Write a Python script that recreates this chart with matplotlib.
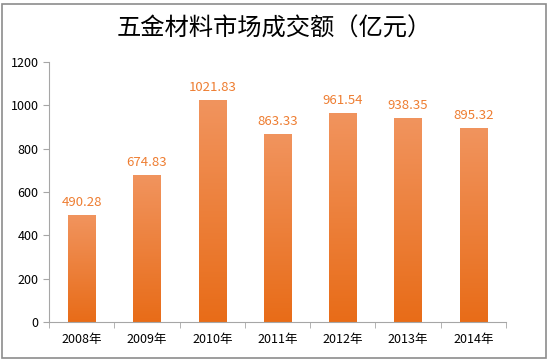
import numpy as np
import matplotlib.pyplot as plt
from matplotlib.patches import Rectangle

plt.rcParams['font.family'] = ['Noto Sans CJK SC', 'DejaVu Sans']

years = ['2008年', '2009年', '2010年', '2011年', '2012年', '2013年', '2014年']
values = [490.28, 674.83, 1021.83, 863.33, 961.54, 938.35, 895.32]
title = '五金材料市场成交额（亿元）'

fig = plt.figure(figsize=(5.49, 3.62), dpi=100)
fig.patches.append(Rectangle((0.004, 0.012), 0.99, 0.978, transform=fig.transFigure,
                             fill=False, edgecolor='#8c8c8c', linewidth=1.2))
ax = fig.add_axes([0.0893, 0.1105, 0.8324, 0.7182])

top = np.array([241, 148, 94]) / 255
bot = np.array([232, 108, 24]) / 255
grad = np.linspace(0, 1, 256)[:, None]
img = bot + (top - bot) * grad
img = img.reshape(256, 1, 3)

w = 0.42
x = np.arange(len(values))
bars = ax.bar(x, values, width=w, color='none')
for b, v in zip(bars, values):
    x0 = b.get_x()
    ax.imshow(img, extent=[x0, x0 + w, 0, v], origin='lower', aspect='auto', zorder=2)
    ax.text(b.get_x() + w / 2, v + 30, f'{v:.2f}', ha='center', va='bottom',
            color='#ee7d31', fontsize=9.5)

ax.set_xlim(-0.5, len(values) - 0.5)
ax.set_ylim(0, 1200)
ax.set_yticks(range(0, 1201, 200))
ax.set_xticks(x)
ax.set_xticklabels(years, fontsize=9)
ax.set_xticks(np.arange(-0.5, len(values)), minor=True)
ax.tick_params(axis='x', which='major', length=0, pad=8)
ax.tick_params(axis='x', which='minor', length=4, color='#a6a6a6')
ax.tick_params(axis='y', length=4, color='#a6a6a6', labelsize=9)
for s in ['top', 'right']:
    ax.spines[s].set_visible(False)
for s in ['left', 'bottom']:
    ax.spines[s].set_color('#a6a6a6')

fig.text(0.5, 0.92, title, ha='center', va='center', fontsize=17.5)

fig.savefig('out.png', dpi=100)
